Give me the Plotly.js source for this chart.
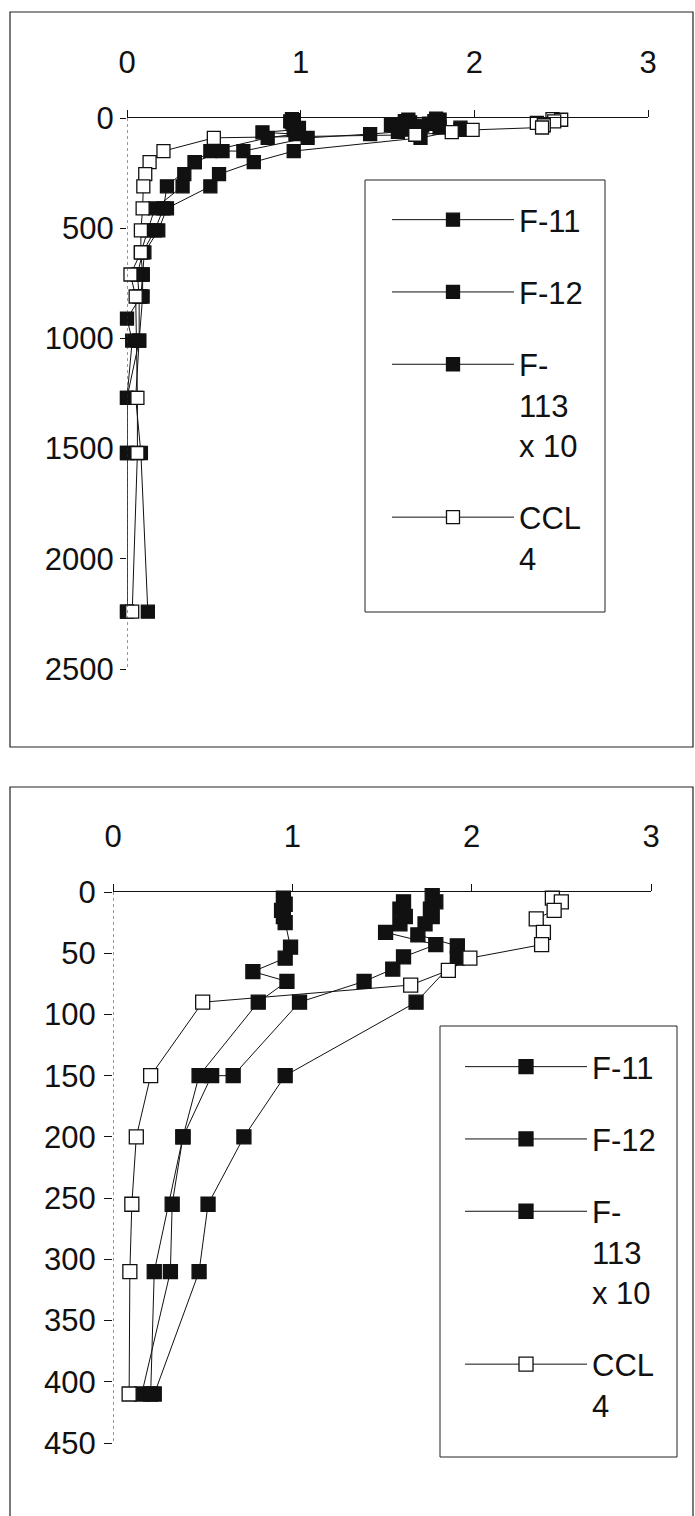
<!DOCTYPE html>
<html>
<head>
<meta charset="utf-8">
<script src="https://cdn.plot.ly/plotly-3.0.1.min.js"></script>
<style>
html,body{margin:0;padding:0;background:#ffffff;}
#chart{width:695px;height:1516px;}
</style>
</head>
<body>
<div id="chart"></div>
<script>
// ---- data ----
const seriesNames = ['F-11', 'F-12', 'F-<br>113<br>x 10', 'CCL<br>4'];

const f11Depth = [3, 8, 14, 20, 26, 35, 44, 54, 90, 150, 200, 255, 310, 410, 510, 610, 710, 810, 1010, 1270, 1520, 2240];
const f11Value = [1.78, 1.80, 1.77, 1.78, 1.74, 1.70, 1.92, 1.92, 1.69, 0.96, 0.73, 0.53, 0.48, 0.23, 0.18, 0.10, 0.09, 0.09, 0.07, 0.05, 0.08, 0.12];

const f12Depth = [5, 10, 15, 20, 25, 45, 54, 65, 73, 90, 150, 200, 255, 310, 410, 510, 610, 710, 810, 910, 1010, 1270, 1520, 2240];
const f12Value = [0.95, 0.96, 0.94, 0.95, 0.96, 0.99, 0.96, 0.78, 0.97, 0.81, 0.48, 0.39, 0.33, 0.32, 0.16, 0.12, 0.08, 0.09, 0.08, 0.00, 0.03, 0.00, 0.00, 0.00];

const f113Depth = [8, 14, 20, 26, 33, 43, 53, 63, 73, 90, 150, 150, 200, 310, 410, 510, 610, 710, 810, 1010, 1270, 1520, 2240];
const f113Value = [1.62, 1.60, 1.63, 1.60, 1.52, 1.80, 1.62, 1.56, 1.40, 1.04, 0.67, 0.55, 0.39, 0.23, 0.21, 0.16, 0.09, 0.06, 0.07, 0.07, 0.00, 0.00, 0.00];

const ccl4Depth = [5, 8, 15, 22, 33, 43, 54, 64, 76, 90, 150, 200, 255, 310, 410, 510, 610, 710, 810, 1270, 1520, 2240];
const ccl4Value = [2.45, 2.50, 2.46, 2.36, 2.40, 2.39, 1.99, 1.87, 1.66, 0.50, 0.21, 0.13, 0.105, 0.094, 0.09, 0.08, 0.08, 0.02, 0.05, 0.06, 0.06, 0.03];

const xTicks = [0, 1, 2, 3];
const deepTicks = [0, 500, 1000, 1500, 2000, 2500];
const shallowTicks = [0, 50, 100, 150, 200, 250, 300, 350, 400, 450];
const deepMax = 2500;
const shallowMax = 450;

// ---- styling ----
const W = 695, H = 1516;
const px = v => v / W;
const py = v => 1 - v / H;
const FONT = 'Liberation Sans, Arial, Helvetica, sans-serif';
const INK = '#111111';

const depths = [f11Depth, f12Depth, f113Depth, ccl4Depth];
const values = [f11Value, f12Value, f113Value, ccl4Value];
const fills = [INK, INK, INK, '#ffffff'];

const traces = [];
for (let i = 0; i < 4; i++) {
  traces.push({
    type: 'scatter', mode: 'lines+markers', name: seriesNames[i],
    x: values[i], y: depths[i], xaxis: 'x', yaxis: 'y',
    legend: 'legend', legendgroup: 'top' + i,
    line: {color: INK, width: 1},
    marker: {symbol: 'square', size: 13, color: fills[i], line: {color: INK, width: 1.3}},
    cliponaxis: false
  });
}
for (let i = 0; i < 4; i++) {
  const keep = depths[i].map((d, k) => d <= shallowMax ? k : -1).filter(k => k >= 0);
  traces.push({
    type: 'scatter', mode: 'lines+markers', name: seriesNames[i],
    x: keep.map(k => values[i][k]), y: keep.map(k => depths[i][k]), xaxis: 'x2', yaxis: 'y2',
    legend: 'legend2', legendgroup: 'bot' + i,
    line: {color: INK, width: 1},
    marker: {symbol: 'square', size: 14, color: fills[i], line: {color: INK, width: 1.3}},
    cliponaxis: false
  });
}

const xCommon = {
  range: [0, 3], side: 'top', tickvals: xTicks, ticks: 'outside', ticklen: 7, tickwidth: 1,
  tickcolor: INK, showline: true, linecolor: INK, linewidth: 1, showgrid: false, zeroline: false,
  tickfont: {size: 31, family: FONT, color: INK}, ticklabelstandoff: 25, fixedrange: true
};
const yCommon = {
  ticks: 'outside', tickwidth: 1, tickcolor: INK, showline: false, showgrid: false,
  zeroline: false, tickfont: {size: 31, family: FONT, color: INK}, fixedrange: true
};

const legendCommon = {
  xanchor: 'left', yanchor: 'top', bgcolor: 'rgba(0,0,0,0)', borderwidth: 0,
  font: {size: 31, family: FONT, color: INK}, itemwidth: 122, valign: 'top',
  tracegroupgap: 29, itemclick: false, itemdoubleclick: false
};

const frame = (x0, y0, x1, y1, w) => ({
  type: 'rect', xref: 'paper', yref: 'paper', x0: px(x0), x1: px(x1), y0: py(y1), y1: py(y0),
  line: {color: '#222222', width: w}, fillcolor: 'rgba(0,0,0,0)', layer: 'below'
});

const layout = {
  width: W, height: H, margin: {l: 0, r: 0, t: 0, b: 0},
  paper_bgcolor: '#ffffff', plot_bgcolor: 'rgba(0,0,0,0)',
  font: {family: FONT, color: INK},
  showlegend: true,
  xaxis: Object.assign({}, xCommon, {domain: [px(127), px(648)], anchor: 'y'}),
  yaxis: Object.assign({}, yCommon, {domain: [py(669), py(118)], range: [deepMax, 0], tickvals: deepTicks, anchor: 'x', ticklen: 6, ticklabelstandoff: 0}),
  xaxis2: Object.assign({}, xCommon, {domain: [px(113), px(651)], anchor: 'y2'}),
  yaxis2: Object.assign({}, yCommon, {domain: [py(1443), py(892)], range: [shallowMax, 0], tickvals: shallowTicks, anchor: 'x2', ticklen: 8, ticklabelstandoff: 2}),
  legend: Object.assign({}, legendCommon, {x: px(387), y: py(193)}),
  legend2: Object.assign({}, legendCommon, {x: px(460), y: py(1040)}),
  shapes: [
    frame(10, 12, 693, 747, 1.2),
    frame(10, 787, 693, 1522, 1.2),
    frame(365, 180, 605, 612, 1),
    frame(440, 1026, 677, 1457, 1),
    {type: 'line', xref: 'x', yref: 'y', x0: 0, x1: 0, y0: 0, y1: deepMax, line: {color: '#333333', width: 1, dash: 'dot'}},
    {type: 'line', xref: 'x2', yref: 'y2', x0: 0, x1: 0, y0: 0, y1: shallowMax, line: {color: '#333333', width: 1, dash: 'dot'}}
  ]
};

Plotly.newPlot('chart', traces, layout, {staticPlot: true, displayModeBar: false});
</script>
</body>
</html>
